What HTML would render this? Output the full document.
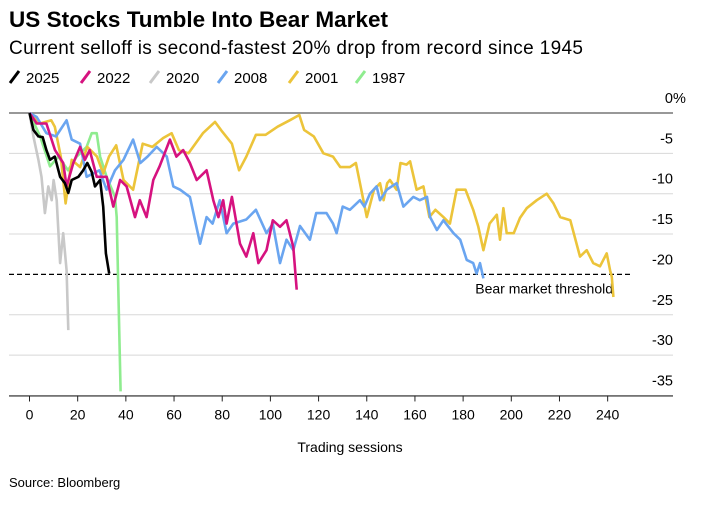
<!DOCTYPE html>
<html><head><meta charset="utf-8"><style>
body{margin:0;background:#fff;width:701px;height:500px;overflow:hidden;font-family:"Liberation Sans",Arial,sans-serif}
svg text{font-family:"Liberation Sans",Arial,sans-serif}
</style></head><body>
<svg id="chart" width="701" height="500">
<text x="9" y="27" font-size="22.5" font-weight="bold" fill="#000" textLength="379">US Stocks Tumble Into Bear Market</text>
<text x="9" y="54" font-size="19" fill="#000" textLength="574">Current selloff is second-fastest 20% drop from record since 1945</text>
<g id="legend"></g>
<g id="grid"></g>
<g id="series"></g>
<g id="axes"></g>
<text x="350" y="452" font-size="14" text-anchor="middle" fill="#000">Trading sessions</text>
<text x="9" y="487" font-size="13" fill="#000">Source: Bloomberg</text>
</svg>
<script>
const yTicks=[0,-5,-10,-15,-20,-25,-30,-35];
const xTicks=[0,20,40,60,80,100,120,140,160,180,200,220,240];
const threshold=-20;
const seriesNames=["2025","2022","2020","2008","2001","1987"];
const seriesColors=["#000000","#d6127f","#c8c8c8","#6aa5f0","#ecc43a","#8fec8f"];
const s2025x=[0,1.6,3.7,5.5,7,8.5,10.5,12.7,14.7,16.1,17.5,20.3,22.3,24,25.8,27.2,29.3,30.6,31.7,33.1];
const s2025y=[0,-2.1,-2.9,-3,-4.6,-5.8,-5.4,-7.9,-8.7,-9.9,-8.3,-7.9,-7.1,-6.2,-7.3,-9.1,-8.3,-11.6,-17.4,-19.9];
const s2022x=[0,3,7,10.6,14,15.4,18.2,21,23,25,27.9,32,34.8,37.6,40.3,43.8,45.8,48.6,51.4,54,58.3,61,63.8,66.6,69.4,73.5,76.3,78.4,80.4,81.8,84,87.4,90,92.9,95,98.4,101,104,106.7,109.5,110.9];
const s2022y=[0,-1.3,-1.3,-4.6,-6.2,-9.1,-6.2,-4.2,-5.8,-4.6,-7.9,-7.9,-11.6,-8.3,-9.1,-12.9,-10.8,-12.9,-8.3,-6.6,-3.3,-5.4,-4.6,-6.2,-8.3,-7.1,-10.8,-12.9,-10.8,-13.7,-10.4,-16.2,-17.8,-14.9,-18.6,-17,-13.3,-14.1,-13.3,-16.6,-21.9];
const s2020x=[0,1.6,3.7,5,6.4,7.8,9.2,10,11.3,12.7,14,15.4,16.1];
const s2020y=[0,-2.9,-5.8,-7.9,-12.4,-9.1,-10.8,-8.3,-10.8,-18.6,-14.9,-19.5,-26.9];
const s2008x=[0,3,7,11,15.4,17.5,21,23.7,29,32,35.5,39,43,46,49,52.8,57,59.7,62.5,66.6,70.8,73.5,76,79,81.8,84.6,90,94,98.4,101,104,106.7,109.5,112.3,116.4,119,123.3,126,127.5,130,133,137.2,139,141.3,144.1,145.5,148.3,152.4,155.2,159.3,162,165,166.3,169.1,171.8,176,178.8,181.5,184.2,185.6,187,188.4];
const s2008y=[0,-0.5,-2.5,-2.9,-0.9,-3.3,-3.8,-7.9,-7.1,-9.5,-7.1,-5.8,-3.3,-6.2,-5.4,-4.2,-5.4,-9.1,-9.5,-10.4,-16.2,-12.9,-13.7,-10.8,-14.9,-13.7,-13.2,-12,-14.9,-13.7,-18.6,-15.7,-17,-14,-15.7,-12.4,-12.4,-13.7,-14.9,-11.6,-12,-10.8,-11.6,-10,-9.1,-10.8,-9.5,-8.7,-11.6,-10.4,-10.8,-10.4,-12.9,-14.5,-13.3,-14.9,-15.7,-18.2,-18.6,-19.9,-18.6,-20.5];
const s2001x=[0,4.4,9,10.5,13,15,17.5,21,24,28,30.6,33,36,39,43,47,51,55.5,59,62,66,72,77,80,84,87,90,94,98,103,108,112,114,118,122,126,129,133,135.5,140,143,145.5,147,148.5,149.6,152.4,154,156.5,158,160.7,163.5,166,168.5,171.8,174.5,177.3,181,184.2,186.3,188.4,191,194,195.3,196.7,198.1,201,203.6,206.4,210.6,214.7,217.5,220.3,224.5,228.5,231.3,234,236.8,239.6,241,241.7,242.4];
const s2001y=[0,-1.3,-0.9,-1.7,-5.4,-11.2,-5.8,-6.7,-4.2,-5.4,-7.5,-5.4,-4,-8.3,-9.5,-3.8,-4.2,-3.1,-2.5,-4.6,-5,-2.5,-1.1,-2.3,-3.8,-7.1,-5.4,-2.7,-2.7,-1.7,-0.9,-0.25,-2.1,-2.9,-5,-5.4,-6.7,-6.7,-6.2,-12.9,-9.5,-8.7,-10.8,-8.7,-8.3,-9.5,-6.2,-6.4,-6,-9.5,-9.1,-12.9,-12,-12.9,-13.7,-9.5,-9.5,-12,-14.1,-17,-13.7,-12.6,-15.7,-11.8,-14.9,-14.9,-13,-11.8,-10.8,-10,-11.2,-12.9,-13.3,-17.8,-17,-18.6,-19,-17.4,-19.5,-20.3,-22.8];
const s1987x=[0,4.4,8.5,12,16,19.6,23.7,25.8,27.9,29.3,32,35.5,36.2,37.8];
const s1987y=[0,-2.9,-6.6,-5.4,-7.1,-5.4,-4.2,-2.5,-2.5,-5.4,-7.9,-10.4,-12.9,-34.5];

const NS="http://www.w3.org/2000/svg";
const X0=29.5,XK=2.409,Y0=113,YK=8.07;
function sx(v){return X0+v*XK;}
function sy(v){return Y0-v*YK;}
function mk(tag,attrs,parent){const e=document.createElementNS(NS,tag);for(const k in attrs)e.setAttribute(k,attrs[k]);parent.appendChild(e);return e;}
const grid=document.getElementById('grid'),axes=document.getElementById('axes'),ser=document.getElementById('series'),leg=document.getElementById('legend');
yTicks.forEach(t=>{
  if(t!==threshold&&t!==-35){
    const l=mk('line',{x1:9,x2:673,y1:sy(t),y2:sy(t),stroke:t===0?'#777':'#d8d8d8','stroke-width':t===0?1.5:1},grid);
    
    
  }
  const tx=mk('text',{x:673,y:sy(t)-10,'font-size':14.5,'text-anchor':'end',fill:'#000'},axes);
  tx.textContent=String(t);
  
  
  if(t===0){const p=mk('text',{x:673,y:sy(t)-10,'font-size':14.5,fill:'#000'},axes);p.textContent='%';
    
    }
});
const base=mk('line',{x1:9,x2:673,y1:sy(-35)+0.5,y2:sy(-35)+0.5,stroke:'#222','stroke-width':1.2},axes);


xTicks.forEach(t=>{
  const l=mk('line',{x1:sx(t),x2:sx(t),y1:sy(-35),y2:sy(-35)+6,stroke:'#222','stroke-width':1},axes);
  
  
  const tx=mk('text',{x:sx(t),y:sy(-35)+24,'font-size':14,'text-anchor':'middle',fill:'#000'},axes);
  tx.textContent=t;
  
  
});
const th=mk('line',{x1:9,x2:633,y1:sy(threshold),y2:sy(threshold),stroke:'#000','stroke-width':1.3,'stroke-dasharray':'5,3'},grid);


const tl=mk('text',{x:613,y:sy(threshold)+19,'font-size':14,'text-anchor':'end',fill:'#000'},grid);
tl.textContent='Bear market threshold';


const allX=[s2025x,s2022x,s2020x,s2008x,s2001x,s1987x],allY=[s2025y,s2022y,s2020y,s2008y,s2001y,s1987y];
const order=[5,2,4,3,1,0];
order.forEach(i=>{
  const xs=allX[i],ys=allY[i];
  const d=xs.map((x,j)=>(j?'L':'M')+sx(x).toFixed(1)+','+sy(ys[j]).toFixed(1)).join('');
  const p=mk('path',{d:d,fill:'none',stroke:seriesColors[i],'stroke-width':2.6,'stroke-linejoin':'round'},ser);
  
  
});
const legX=[10,81,150,218,289,356];
seriesNames.forEach((n,i)=>{
  const g=mk('g',{},leg);
  
  
  mk('line',{x1:legX[i],y1:83,x2:legX[i]+9,y2:71,stroke:seriesColors[i],'stroke-width':3},g);
  const t=mk('text',{x:legX[i]+16,y:83,'font-size':15,fill:'#000'},g);t.textContent=n;
});
</script>
</body></html>
